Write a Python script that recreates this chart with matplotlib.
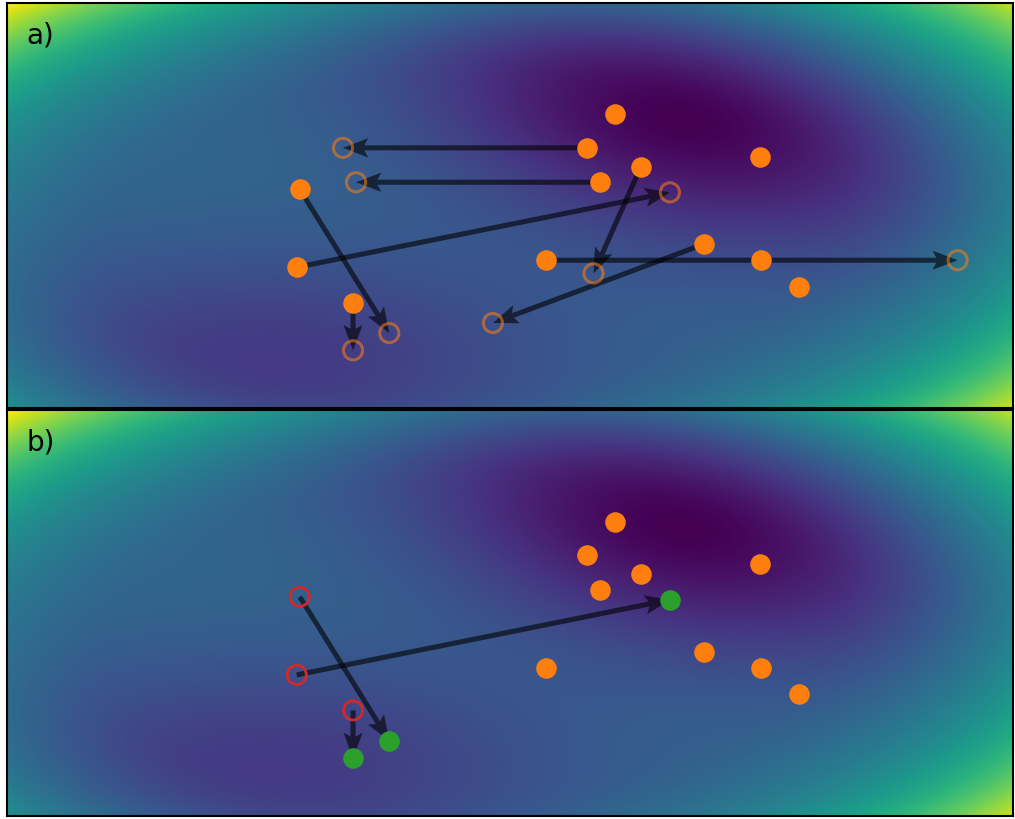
import numpy as np
import matplotlib
matplotlib.use("Agg")
import matplotlib.pyplot as plt

# Particle positions (x, y) in the search domain [0, 10] x [0, 4]
start_x = [6.04, 5.77, 5.89, 6.30, 7.49, 2.91, 2.88, 3.44, 5.36, 6.93, 7.50, 7.87]
start_y = [2.90, 2.57, 2.23, 2.38, 2.48, 2.16, 1.39, 1.04, 1.46, 1.62, 1.46, 1.20]

# Proposed moves: index of the moving particle and its proposed position
move_idx = [1, 2, 3, 5, 6, 7, 8, 9]
prop_x = [3.34, 3.47, 5.83, 3.80, 6.59, 3.44, 9.45, 4.83]
prop_y = [2.57, 2.23, 1.33, 0.74, 2.13, 0.57, 1.46, 0.84]

# Moves that were accepted
accepted = [5, 6, 7]

XMAX, YMAX = 10.0, 4.0


def objective(x, y):
    # flat plateau inside an ellipse, rising outside it towards the corners
    u = (x - 4.6) / 5.0
    v = (y - 1.75) / 2.2
    r2 = u**2 + v**2 - 0.22 * u * v
    walls = 0.33 + 0.34 * np.maximum(r2 - 0.5, 0.0) ** 1.6
    # deep, slightly tilted basin (upper right) and a shallower one (lower left)
    th = -0.2
    dx, dy = x - 6.7, y - 2.85
    a = dx * np.cos(th) + dy * np.sin(th)
    b = -dx * np.sin(th) + dy * np.cos(th)
    basin1 = 0.36 * np.exp(-(a**2 / (2 * 1.9**2) + b**2 / (2 * 0.82**2)))
    basin2 = 0.18 * np.exp(-((x - 2.6) ** 2 / (2 * 2.1**2) + (y - 0.45) ** 2 / (2 * 0.8**2)))
    return walls - basin1 - basin2


gx = np.linspace(0, XMAX, 600)
gy = np.linspace(0, YMAX, 240)
GX, GY = np.meshgrid(gx, gy)
Z = objective(GX, GY)

fig = plt.figure(figsize=(10.15, 8.19), dpi=100)
ax_a = fig.add_axes([0.0069, 0.5018, 0.9911, 0.4945])
ax_b = fig.add_axes([0.0069, 0.0037, 0.9911, 0.4957])

arrow_kw = dict(width=0.05, head_width=0.19, head_length=0.25, overhang=0.15,
                length_includes_head=True, color="black", alpha=0.6,
                linewidth=0, zorder=2)


def draw_arrow(ax, x0, y0, x1, y1):
    ax.arrow(x0, y0, x1 - x0, y1 - y0, **arrow_kw)


for ax, label in ((ax_a, "a)"), (ax_b, "b)")):
    ax.imshow(Z, extent=[0, XMAX, 0, YMAX], origin="lower", cmap="viridis",
              aspect="auto", interpolation="bilinear", zorder=0)
    ax.set_xlim(0, XMAX)
    ax.set_ylim(0, YMAX)
    ax.set_xticks([])
    ax.set_yticks([])
    for s in ax.spines.values():
        s.set_linewidth(1.5)
        s.set_color("black")
    ax.text(0.019, 0.955, label, transform=ax.transAxes, fontsize=20,
            va="top", ha="left", color="black", zorder=5)

# a) all proposed moves
for i, px, py in zip(move_idx, prop_x, prop_y):
    draw_arrow(ax_a, start_x[i], start_y[i], px, py)
ax_a.scatter(prop_x, prop_y, s=190, facecolors="none", edgecolors="#ff7f0e",
             linewidths=2.2, alpha=0.55, zorder=3)
ax_a.scatter(start_x, start_y, s=190, color="#ff7f0e", zorder=4)

# b) accepted moves only
moved = set(accepted)
keep_x = [x for k, x in enumerate(start_x) if k not in moved]
keep_y = [y for k, y in enumerate(start_y) if k not in moved]
acc_from_x = [start_x[i] for i in accepted]
acc_from_y = [start_y[i] for i in accepted]
acc_to_x = [prop_x[move_idx.index(i)] for i in accepted]
acc_to_y = [prop_y[move_idx.index(i)] for i in accepted]
for fx, fy, tx, ty in zip(acc_from_x, acc_from_y, acc_to_x, acc_to_y):
    draw_arrow(ax_b, fx, fy, tx, ty)
ax_b.scatter(acc_from_x, acc_from_y, s=190, facecolors="none", edgecolors="#d62728",
             linewidths=2, zorder=3)
ax_b.scatter(acc_to_x, acc_to_y, s=190, color="#2ca02c", zorder=4)
ax_b.scatter(keep_x, keep_y, s=190, color="#ff7f0e", zorder=4)

fig.savefig("out.png", dpi=100)
